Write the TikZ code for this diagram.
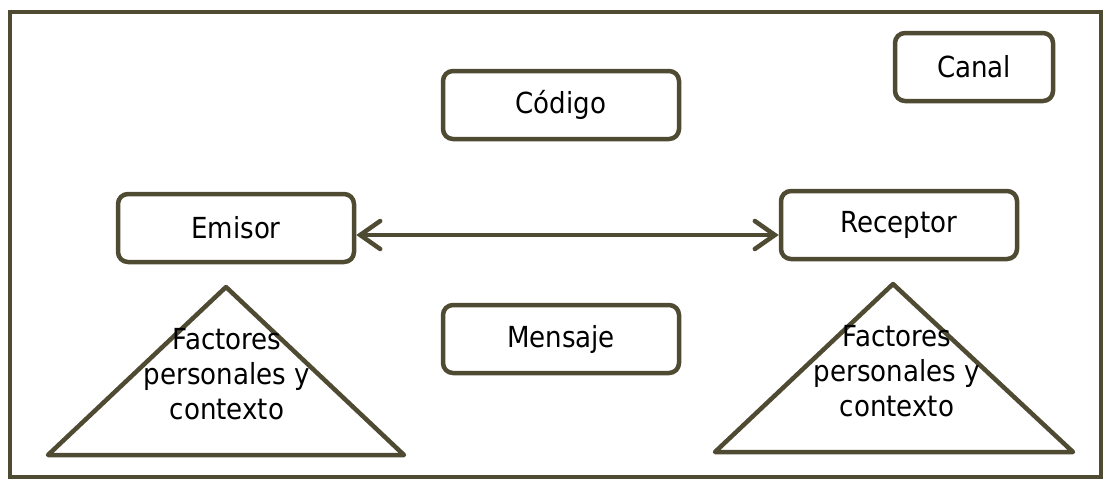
\documentclass[tikz,border=0pt]{standalone}
\usepackage{fontspec}
\setmainfont{DejaVu Sans Condensed}
\usetikzlibrary{arrows.meta}
\definecolor{boxline}{HTML}{4F4A32}
\begin{document}
\begin{tikzpicture}[x=1pt, y=-1pt,
        box/.style={draw=boxline, line width=4.5pt, rounded corners=10pt, minimum width=236pt, minimum height=68pt, font=\fontsize{29}{34}\selectfont},
        tri/.style={draw=boxline, line width=4.5pt, line join=round},
        factor/.style={align=center, font=\fontsize{29}{35}\selectfont}]
        \useasboundingbox (0,0) rectangle (1105,479);
        \draw[boxline, line width=4.5pt] (10,12) rectangle (1101,477);
        % boxes
        \node[box, minimum width=158pt] (canal) at (974,67) {Canal};
        \node[box] (codigo) at (561,105) {Código};
        \node[box] (emisor) at (236,228) {Emisor};
        \node[box] (receptor) at (899,225) {Receptor};
        \node[box] (mensaje) at (561,339) {Mensaje};
        \draw[boxline, line width=4.5pt, {Straight Barb[length=20pt, width=28pt, line cap=round]}-{Straight Barb[length=20pt, width=28pt, line cap=round]}] (emisor.east |- 0,235) -- (receptor.west |- 0,235);
        % triangles
        \draw[tri] (226,287) -- (404,455) -- (48,455) -- cycle;
        \node[factor] (factleft) at (227,374) {Factores\\personales y\\contexto};
        \draw[tri] (893,284) -- (1073,452) -- (715,452) -- cycle;
        \node[factor] (factright) at (897,371) {Factores\\personales y\\contexto};
    \end{tikzpicture}
\end{document}
